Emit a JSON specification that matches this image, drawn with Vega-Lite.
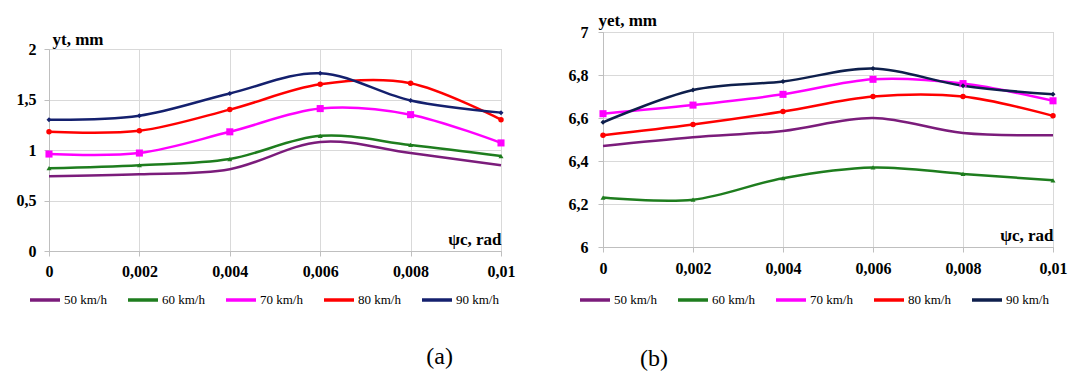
{
  "$schema": "https://vega.github.io/schema/vega-lite/v6.json",
  "padding": {"left": 15, "top": 10, "right": 0, "bottom": 0},
  "spacing": 51,
  "config": {
    "font": "Liberation Serif",
    "view": {"stroke": "#bfbfbf"},
    "axis": {
      "labelFont": "Liberation Serif", "labelFontWeight": "bold", "labelFontSize": 16, "labelColor": "#000000",
      "titleFont": "Liberation Serif", "titleFontWeight": "bold", "titleFontSize": 17, "titleColor": "#000000",
      "gridColor": "#d9d9d9", "domainColor": "#bfbfbf", "tickColor": "#bfbfbf", "tickSize": 5
    },
    "legend": {
      "labelFont": "Liberation Serif", "labelFontSize": 13, "labelColor": "#000000",
      "symbolType": "stroke", "symbolStrokeWidth": 3.5, "symbolSize": 900, "labelOffset": 2, "columnPadding": 14
    },
    "title": {"font": "Liberation Serif", "fontWeight": "normal", "fontSize": 24, "color": "#000000"}
  },
  "resolve": {"scale": {"color": "independent"}, "legend": {"color": "independent"}},
  "hconcat": [
    {
      "spacing": -9,
      "vconcat": [
        {"width": 452, "height": 1, "data": {"values": [{}]}, "mark": {"type": "text", "text": " "}, "view": {"stroke": null}},
        {
          "width": 452, "height": 202,
          "title": {"text": "(a)", "orient": "bottom", "anchor": "end", "frame": "group", "dx": -48, "offset": 66},
          "data": {"values": [
            {"psi": 0, "speed": "50 km/h", "y": 0.74}, {"psi": 0.002, "speed": "50 km/h", "y": 0.76}, {"psi": 0.004, "speed": "50 km/h", "y": 0.81}, {"psi": 0.006, "speed": "50 km/h", "y": 1.08}, {"psi": 0.008, "speed": "50 km/h", "y": 0.97}, {"psi": 0.01, "speed": "50 km/h", "y": 0.85},
            {"psi": 0, "speed": "60 km/h", "y": 0.82}, {"psi": 0.002, "speed": "60 km/h", "y": 0.85}, {"psi": 0.004, "speed": "60 km/h", "y": 0.91}, {"psi": 0.006, "speed": "60 km/h", "y": 1.14}, {"psi": 0.008, "speed": "60 km/h", "y": 1.05}, {"psi": 0.01, "speed": "60 km/h", "y": 0.94},
            {"psi": 0, "speed": "70 km/h", "y": 0.96}, {"psi": 0.002, "speed": "70 km/h", "y": 0.97}, {"psi": 0.004, "speed": "70 km/h", "y": 1.18}, {"psi": 0.006, "speed": "70 km/h", "y": 1.41}, {"psi": 0.008, "speed": "70 km/h", "y": 1.35}, {"psi": 0.01, "speed": "70 km/h", "y": 1.07},
            {"psi": 0, "speed": "80 km/h", "y": 1.18}, {"psi": 0.002, "speed": "80 km/h", "y": 1.19}, {"psi": 0.004, "speed": "80 km/h", "y": 1.40}, {"psi": 0.006, "speed": "80 km/h", "y": 1.65}, {"psi": 0.008, "speed": "80 km/h", "y": 1.66}, {"psi": 0.01, "speed": "80 km/h", "y": 1.30},
            {"psi": 0, "speed": "90 km/h", "y": 1.30}, {"psi": 0.002, "speed": "90 km/h", "y": 1.34}, {"psi": 0.004, "speed": "90 km/h", "y": 1.56}, {"psi": 0.006, "speed": "90 km/h", "y": 1.76}, {"psi": 0.008, "speed": "90 km/h", "y": 1.49}, {"psi": 0.01, "speed": "90 km/h", "y": 1.37}
          ]},
          "encoding": {
            "x": {"field": "psi", "type": "quantitative", "scale": {"domain": [0, 0.01], "nice": false},
              "axis": {"values": [0, 0.002, 0.004, 0.006, 0.008, 0.01], "labelExpr": "replace(format(datum.value, '~g'), '.', ',')", "labelPadding": 7, "labelFlush": false,
                "title": "ψc, rad", "titleX": 452, "titleY": -3, "titleAlign": "right", "titleBaseline": "bottom"}},
            "y": {"field": "y", "type": "quantitative", "scale": {"domain": [0, 2], "nice": false},
              "axis": {"values": [0, 0.5, 1, 1.5, 2], "labelExpr": "replace(format(datum.value, '~g'), '.', ',')", "labelPadding": 8,
                "title": "yt, mm", "titleAngle": 0, "titleAlign": "left", "titleBaseline": "bottom", "titleX": 3, "titleY": -1}},
            "color": {"field": "speed", "type": "nominal",
              "scale": {"domain": ["50 km/h", "60 km/h", "70 km/h", "80 km/h", "90 km/h"], "range": ["#7B1C7B", "#1E7D1E", "#FF00FF", "#FF0000", "#14206E"]},
              "legend": {"title": null, "orient": "none", "direction": "horizontal", "legendX": -21, "legendY": 251, "symbolType": "stroke", "symbolSize": 900, "symbolStrokeWidth": 3.5}}
          },
          "layer": [
            {"mark": {"type": "line", "interpolate": "cardinal", "strokeWidth": 2.5}},
            {"transform": [{"filter": "datum.speed == '60 km/h'"}], "mark": {"type": "point", "filled": true, "opacity": 1, "shape": "triangle-up", "size": 25}},
            {"transform": [{"filter": "datum.speed == '70 km/h'"}], "mark": {"type": "point", "filled": true, "opacity": 1, "shape": "square", "size": 50}},
            {"transform": [{"filter": "datum.speed == '80 km/h'"}], "mark": {"type": "point", "filled": true, "opacity": 1, "shape": "circle", "size": 30}},
            {"transform": [{"filter": "datum.speed == '90 km/h'"}], "mark": {"type": "point", "filled": true, "opacity": 1, "shape": "diamond", "size": 25}}
          ]
        }
      ]
    },
    {
      "width": 450, "height": 215,
      "title": {"text": "(b)", "orient": "bottom", "anchor": "start", "frame": "group", "dx": 37, "offset": 40},
      "data": {"values": [
        {"psi": 0, "speed": "50 km/h", "y": 6.47}, {"psi": 0.002, "speed": "50 km/h", "y": 6.51}, {"psi": 0.004, "speed": "50 km/h", "y": 6.54}, {"psi": 0.006, "speed": "50 km/h", "y": 6.60}, {"psi": 0.008, "speed": "50 km/h", "y": 6.53}, {"psi": 0.01, "speed": "50 km/h", "y": 6.52},
        {"psi": 0, "speed": "60 km/h", "y": 6.23}, {"psi": 0.002, "speed": "60 km/h", "y": 6.22}, {"psi": 0.004, "speed": "60 km/h", "y": 6.32}, {"psi": 0.006, "speed": "60 km/h", "y": 6.37}, {"psi": 0.008, "speed": "60 km/h", "y": 6.34}, {"psi": 0.01, "speed": "60 km/h", "y": 6.31},
        {"psi": 0, "speed": "70 km/h", "y": 6.62}, {"psi": 0.002, "speed": "70 km/h", "y": 6.66}, {"psi": 0.004, "speed": "70 km/h", "y": 6.71}, {"psi": 0.006, "speed": "70 km/h", "y": 6.78}, {"psi": 0.008, "speed": "70 km/h", "y": 6.76}, {"psi": 0.01, "speed": "70 km/h", "y": 6.68},
        {"psi": 0, "speed": "80 km/h", "y": 6.52}, {"psi": 0.002, "speed": "80 km/h", "y": 6.57}, {"psi": 0.004, "speed": "80 km/h", "y": 6.63}, {"psi": 0.006, "speed": "80 km/h", "y": 6.70}, {"psi": 0.008, "speed": "80 km/h", "y": 6.70}, {"psi": 0.01, "speed": "80 km/h", "y": 6.61},
        {"psi": 0, "speed": "90 km/h", "y": 6.58}, {"psi": 0.002, "speed": "90 km/h", "y": 6.73}, {"psi": 0.004, "speed": "90 km/h", "y": 6.77}, {"psi": 0.006, "speed": "90 km/h", "y": 6.83}, {"psi": 0.008, "speed": "90 km/h", "y": 6.75}, {"psi": 0.01, "speed": "90 km/h", "y": 6.71}
      ]},
      "encoding": {
        "x": {"field": "psi", "type": "quantitative", "scale": {"domain": [0, 0.01], "nice": false},
          "axis": {"values": [0, 0.002, 0.004, 0.006, 0.008, 0.01], "labelExpr": "replace(format(datum.value, '~g'), '.', ',')", "labelPadding": 8, "labelFlush": false,
            "title": "ψc, rad", "titleX": 450, "titleY": -3, "titleAlign": "right", "titleBaseline": "bottom"}},
        "y": {"field": "y", "type": "quantitative", "scale": {"domain": [6, 7], "nice": false, "zero": false},
          "axis": {"values": [6, 6.2, 6.4, 6.6, 6.8, 7], "labelExpr": "replace(format(datum.value, '~g'), '.', ',')", "labelPadding": 10,
            "title": "yet, mm", "titleAngle": 0, "titleAlign": "left", "titleBaseline": "bottom", "titleX": -5, "titleY": -3}},
        "color": {"field": "speed", "type": "nominal",
          "scale": {"domain": ["50 km/h", "60 km/h", "70 km/h", "80 km/h", "90 km/h"], "range": ["#7B1C7B", "#1E7D1E", "#FF00FF", "#FF0000", "#0E1F4C"]},
          "legend": {"title": null, "orient": "none", "direction": "horizontal", "legendX": -25, "legendY": 251, "symbolType": "stroke", "symbolSize": 900, "symbolStrokeWidth": 3.5}}
      },
      "layer": [
        {"mark": {"type": "line", "interpolate": "cardinal", "strokeWidth": 2.5}},
        {"transform": [{"filter": "datum.speed == '60 km/h'"}], "mark": {"type": "point", "filled": true, "opacity": 1, "shape": "triangle-up", "size": 25}},
        {"transform": [{"filter": "datum.speed == '70 km/h'"}], "mark": {"type": "point", "filled": true, "opacity": 1, "shape": "square", "size": 50}},
        {"transform": [{"filter": "datum.speed == '80 km/h'"}], "mark": {"type": "point", "filled": true, "opacity": 1, "shape": "circle", "size": 30}},
        {"transform": [{"filter": "datum.speed == '90 km/h'"}], "mark": {"type": "point", "filled": true, "opacity": 1, "shape": "diamond", "size": 25}}
      ]
    }
  ]
}
